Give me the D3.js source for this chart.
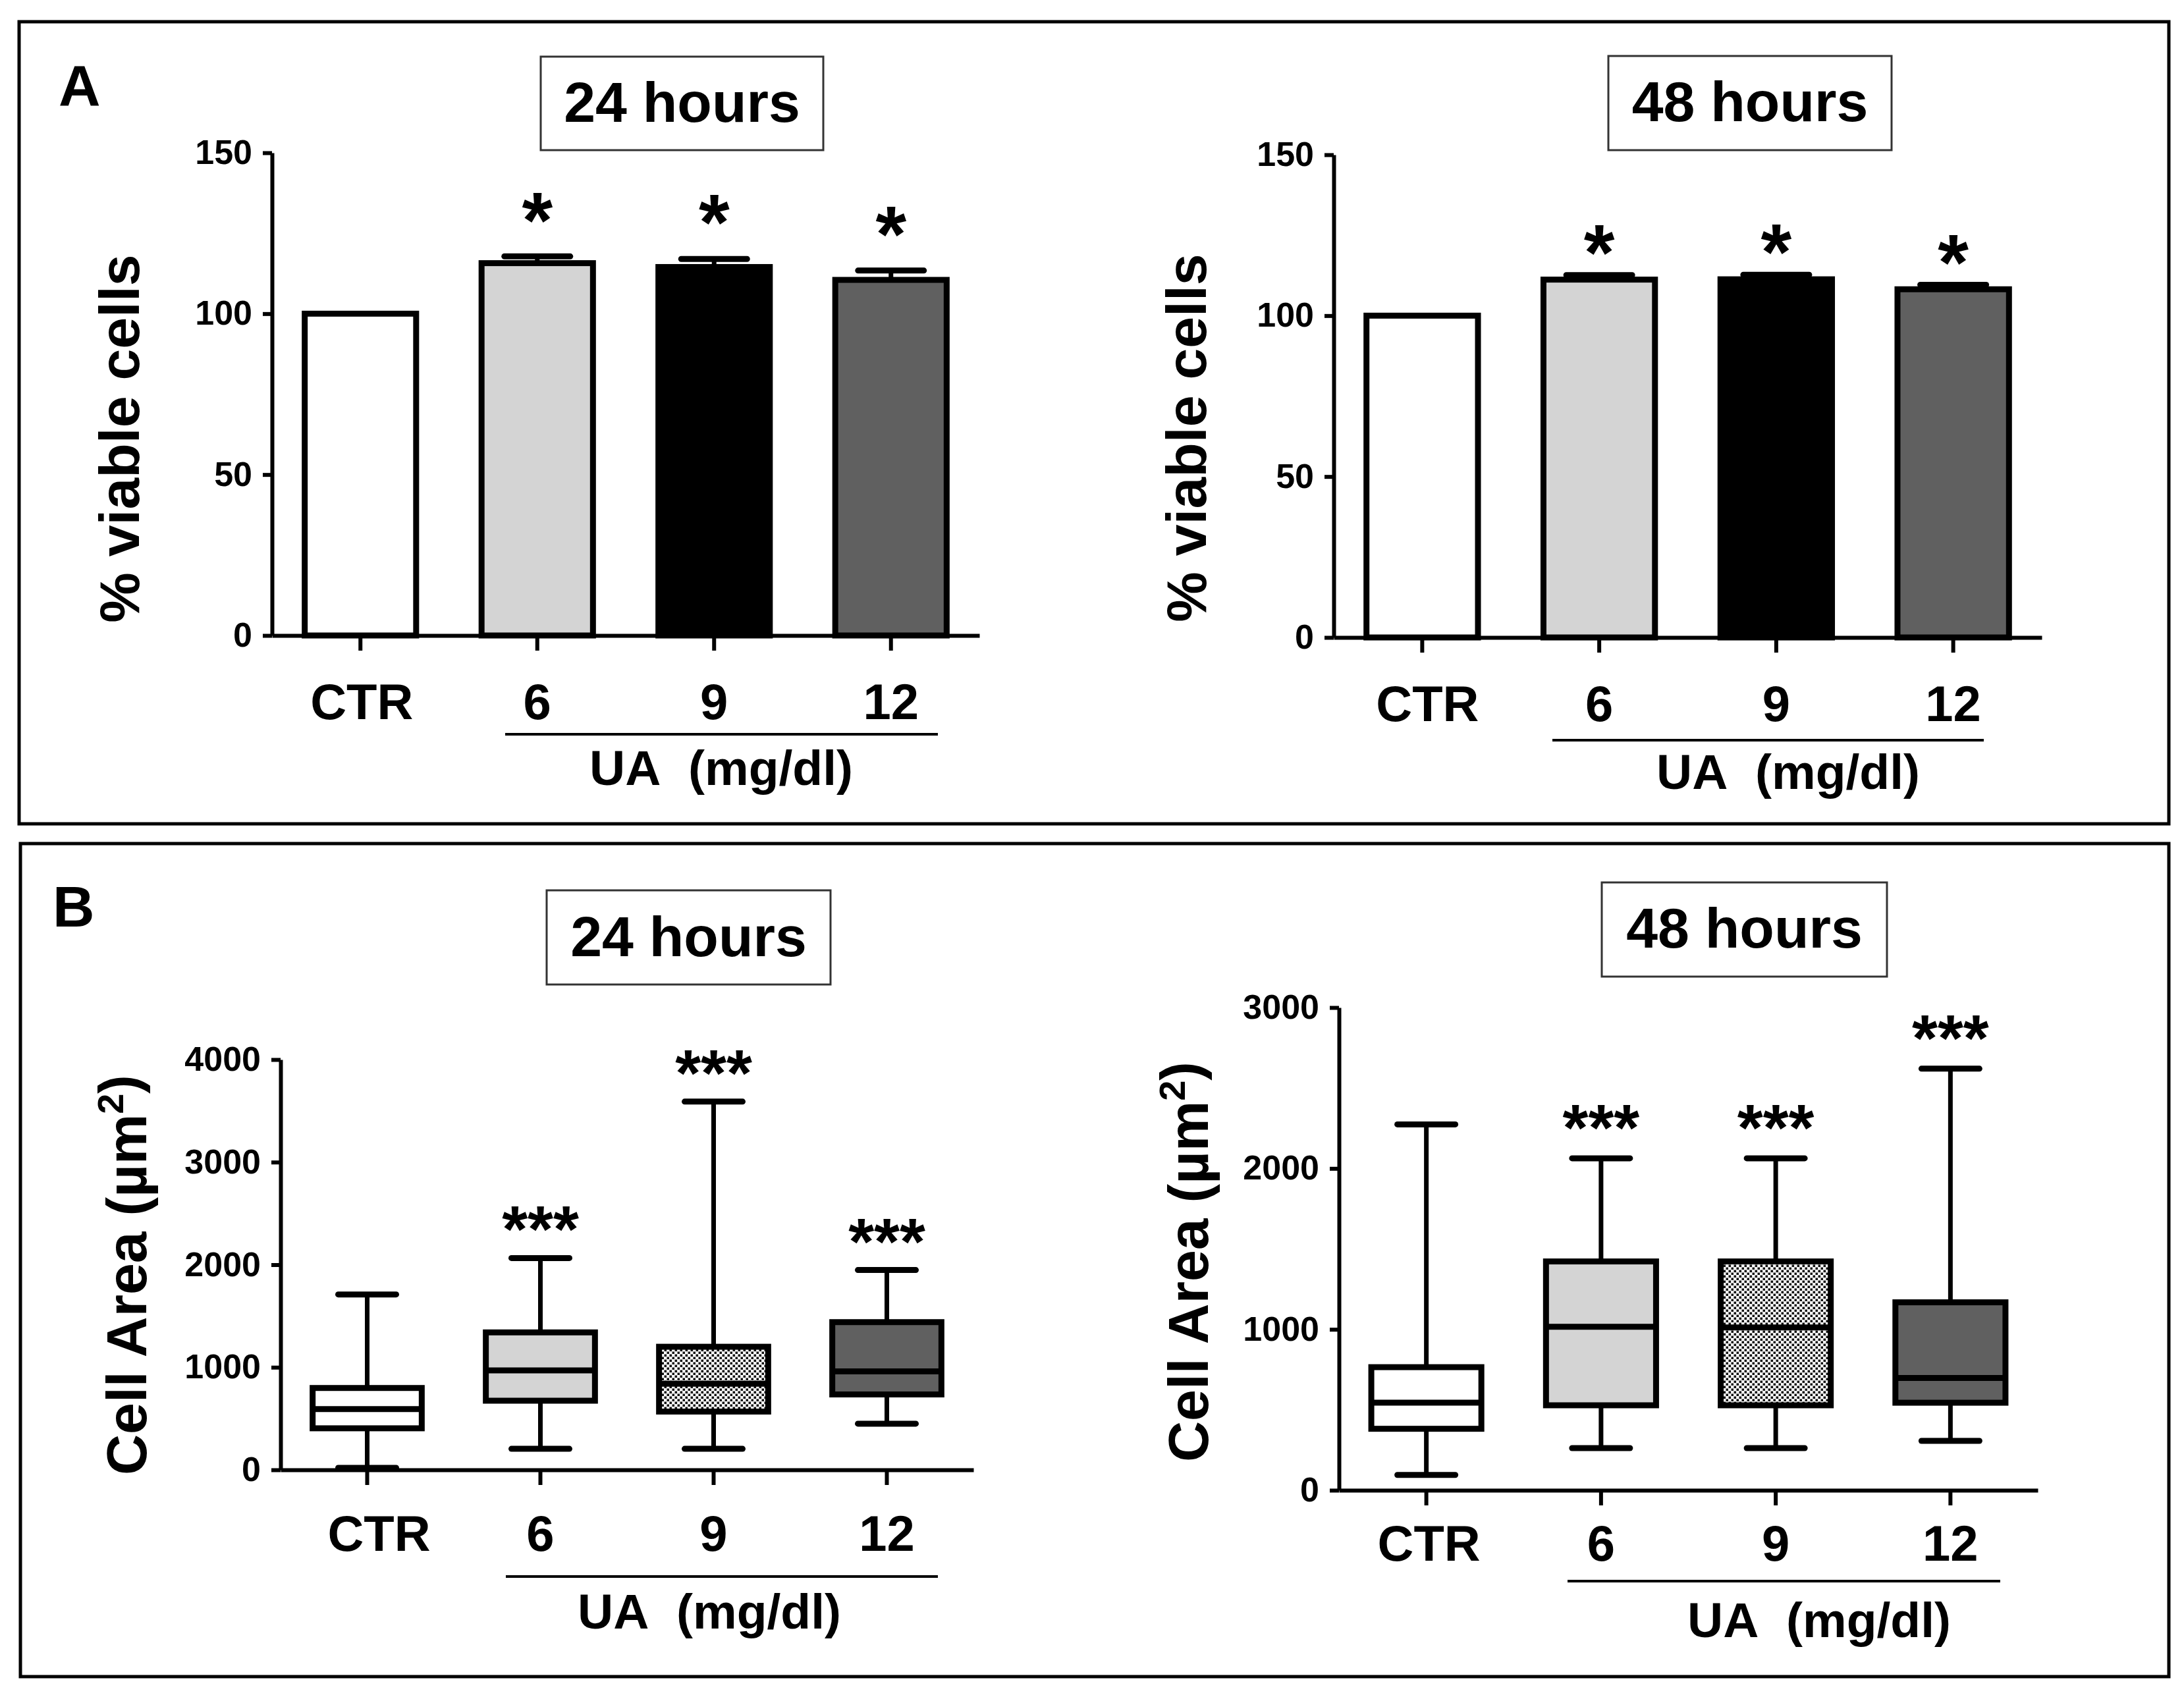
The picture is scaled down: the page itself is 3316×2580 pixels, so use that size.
<!DOCTYPE html>
<html lang="en">
<head>
    <meta charset="utf-8">
    <title>Viability and cell area</title>
    <script src="https://cdn.jsdelivr.net/npm/d3@7/dist/d3.min.js"></script>
    <style>
        body { margin: 0; background: #fff; }
        text { font-family: "Liberation Sans", Arial, sans-serif; font-weight: bold; fill: #000; }
    </style>
</head>
<body>
<div id="graph"></div>
<script>
    // groups on the x axis
    var categories = ["CTR", "6", "9", "12"];

    // panel A: % viable cells (mean and upper error)
    var viabTicks = [0, 50, 100, 150];
    var viab24 = [100, 115.7, 114.5, 110.5];
    var viab24Err = [0, 2.1, 2.5, 2.9];
    var viab48 = [100, 111.2, 111.3, 108.2];
    var viab48Err = [0, 1.4, 1.4, 1.4];
    var viabStars = ["", "*", "*", "*"];

    // panel B: cell area box plots (µm²)
    var area24Ticks = [0, 1000, 2000, 3000, 4000];
    var area24Min = [20, 205, 205, 450];
    var area24Q1 = [405, 674, 568, 735];
    var area24Med = [592, 970, 840, 960];
    var area24Q3 = [798, 1340, 1200, 1440];
    var area24Max = [1710, 2065, 3590, 1948];

    var area48Ticks = [0, 1000, 2000, 3000];
    var area48Min = [95, 262, 262, 307];
    var area48Q1 = [382, 528, 528, 544];
    var area48Med = [544, 1016, 1012, 698];
    var area48Q3 = [765, 1422, 1422, 1168];
    var area48Max = [2274, 2063, 2063, 2620];
    var areaStars = ["", "***", "***", "***"];

    var w = 3316;
    var h = 2580;

    var svg = d3.select("#graph")
        .append("svg")
        .attr("width", w)
        .attr("height", h);

    // checkered fill for the 9 mg/dl box
    var pat = svg.append("defs").append("pattern")
        .attr("id", "checker")
        .attr("width", 8)
        .attr("height", 8)
        .attr("patternUnits", "userSpaceOnUse");
    pat.append("rect").attr("width", 8).attr("height", 8).attr("fill", "#fff");
    pat.append("rect").attr("x", 0.5).attr("y", 0.5).attr("width", 3.6).attr("height", 3.6).attr("fill", "#111");
    pat.append("rect").attr("x", 4.5).attr("y", 4.5).attr("width", 3.6).attr("height", 3.6).attr("fill", "#111");

    var barFills = ["#ffffff", "#d4d4d4", "#000000", "#606060"];
    var boxFills = ["#ffffff", "#d4d4d4", "url(#checker)", "#606060"];

    // outer panel frames and letters
    svg.append("rect").attr("x", 29).attr("y", 33).attr("width", 3264).attr("height", 1218)
        .attr("fill", "none").attr("stroke", "#000").attr("stroke-width", 5);
    svg.append("rect").attr("x", 31).attr("y", 1281).attr("width", 3262).attr("height", 1265)
        .attr("fill", "none").attr("stroke", "#000").attr("stroke-width", 5);
    svg.append("text").attr("x", 89).attr("y", 160).style("font-size", "88px").text("A");
    svg.append("text").attr("x", 80).attr("y", 1407).style("font-size", "88px").text("B");

    /**
     * Draws the frame shared by every chart: title box, axes, group labels,
     * the UA bracket and the y axis title. Returns the scales.
     */
    function drawFrame(c) {
        var x = d3.scaleBand()
            .domain(categories)
            .range([c.x0, c.x1])
            .paddingInner(0.37)
            .paddingOuter(0.185);

        var y = d3.scaleLinear()
            .domain([0, c.max])
            .range([c.y0, c.y1]);

        // title box
        svg.append("rect")
            .attr("x", c.box[0]).attr("y", c.box[1])
            .attr("width", c.box[2]).attr("height", c.box[3])
            .attr("fill", "#fff").attr("stroke", "#333").attr("stroke-width", 3);
        svg.append("text")
            .attr("x", c.box[0] + c.box[2] / 2)
            .attr("y", c.titleY)
            .attr("text-anchor", "middle")
            .style("font-size", "86px")
            .text(c.title);

        var yAxis = d3.axisLeft(y)
            .tickValues(c.ticks)
            .tickFormat(d3.format("d"))
            .tickSize(14)
            .tickSizeOuter(0)
            .tickPadding(16);

        var gy = svg.append("g")
            .attr("transform", "translate(" + c.x0 + ",0)")
            .call(yAxis);
        gy.selectAll("path, line").attr("stroke", "#000").attr("stroke-width", 6);
        gy.selectAll("text")
            .style("font-family", "'Liberation Sans', Arial, sans-serif")
            .style("font-weight", "bold")
            .style("font-size", "52px")
            .attr("fill", "#000");

        var xAxis = d3.axisBottom(x)
            .tickSize(23)
            .tickSizeOuter(0)
            .tickFormat("");

        var gx = svg.append("g")
            .attr("transform", "translate(0," + c.y0 + ")")
            .call(xAxis);
        gx.selectAll("path, line").attr("stroke", "#000").attr("stroke-width", 6);

        // group labels
        svg.selectAll(null)
            .data(categories)
            .enter()
            .append("text")
            .attr("x", function (d, i) { return x(d) + x.bandwidth() / 2 + (i === 0 ? c.ctrShift : 0); })
            .attr("y", c.labelY)
            .attr("text-anchor", "middle")
            .style("font-size", "76px")
            .text(function (d) { return d; });

        // UA bracket under the treated groups
        svg.append("line")
            .attr("x1", c.line[0]).attr("x2", c.line[1])
            .attr("y1", c.lineY).attr("y2", c.lineY)
            .attr("stroke", "#000").attr("stroke-width", 4);
        svg.append("text")
            .attr("x", c.uaX)
            .attr("y", c.uaY)
            .attr("text-anchor", "middle")
            .style("font-size", "75px")
            .text("UA\u00a0 (mg/dl)");

        // y axis title
        var yl = svg.append("text")
            .attr("transform", "translate(" + c.ylab[0] + "," + c.ylab[1] + ")rotate(-90)")
            .attr("text-anchor", "middle")
            .attr("dy", "0.36em")
            .style("font-size", "86px");
        if (c.unit) {
            yl.append("tspan").text("Cell Area (µm");
            yl.append("tspan").attr("dy", "-0.62em").style("font-size", "56px").text("2");
            yl.append("tspan").attr("dy", "0.26em").text(")");
        } else {
            yl.text(c.ytitle);
        }

        return {x: x, y: y};
    }

    function drawBars(c, values, errs) {
        var s = drawFrame(c);
        var x = s.x, y = s.y;
        var bw = x.bandwidth();

        // upper error bars
        var capW = 100;
        categories.forEach(function (d, i) {
            if (errs[i] <= 0) return;
            var cx = x(d) + bw / 2;
            svg.append("line")
                .attr("x1", cx).attr("x2", cx)
                .attr("y1", y(values[i])).attr("y2", y(values[i] + errs[i]))
                .attr("stroke", "#000").attr("stroke-width", 7);
            svg.append("line")
                .attr("x1", cx - capW / 2).attr("x2", cx + capW / 2)
                .attr("y1", y(values[i] + errs[i])).attr("y2", y(values[i] + errs[i]))
                .attr("stroke", "#000").attr("stroke-width", 9)
                .attr("stroke-linecap", "round");
        });

        svg.selectAll(null)
            .data(values)
            .enter()
            .append("rect")
            .attr("x", function (d, i) { return x(categories[i]); })
            .attr("y", function (d) { return y(d); })
            .attr("width", bw)
            .attr("height", function (d) { return y(0) - y(d); })
            .attr("fill", function (d, i) { return barFills[i]; })
            .attr("stroke", "#000")
            .attr("stroke-width", 9);

        svg.selectAll(null)
            .data(viabStars)
            .enter()
            .append("text")
            .attr("x", function (d, i) { return x(categories[i]) + bw / 2; })
            .attr("y", function (d, i) { return y(values[i] + errs[i]) - c.starGap + 0.56 * 120; })
            .attr("text-anchor", "middle")
            .style("font-size", "120px")
            .text(function (d) { return d; });
    }

    function drawBoxes(c, mins, q1, med, q3, maxs) {
        var s = drawFrame(c);
        var x = s.x, y = s.y;
        var bw = x.bandwidth();
        var capW = 88;

        categories.forEach(function (d, i) {
            var cx = x(d) + bw / 2;
            // whiskers
            [[q3[i], maxs[i]], [q1[i], mins[i]]].forEach(function (p) {
                svg.append("line")
                    .attr("x1", cx).attr("x2", cx)
                    .attr("y1", y(p[0])).attr("y2", y(p[1]))
                    .attr("stroke", "#000").attr("stroke-width", 7);
                svg.append("line")
                    .attr("x1", cx - capW / 2).attr("x2", cx + capW / 2)
                    .attr("y1", y(p[1])).attr("y2", y(p[1]))
                    .attr("stroke", "#000").attr("stroke-width", 9)
                    .attr("stroke-linecap", "round");
            });
            svg.append("rect")
                .attr("x", x(d))
                .attr("y", y(q3[i]))
                .attr("width", bw)
                .attr("height", y(q1[i]) - y(q3[i]))
                .attr("fill", boxFills[i])
                .attr("stroke", "#000")
                .attr("stroke-width", 9);
            svg.append("line")
                .attr("x1", x(d)).attr("x2", x(d) + bw)
                .attr("y1", y(med[i])).attr("y2", y(med[i]))
                .attr("stroke", "#000").attr("stroke-width", 9);
        });

        svg.selectAll(null)
            .data(areaStars)
            .enter()
            .append("text")
            .attr("x", function (d, i) { return x(categories[i]) + bw / 2; })
            .attr("y", function (d, i) { return y(maxs[i]) - c.starGap + 0.56 * 100; })
            .attr("text-anchor", "middle")
            .style("font-size", "100px")
            .text(function (d) { return d; });
    }

    drawBars({
        x0: 413, x1: 1487, y0: 965, y1: 232, max: 150, ticks: viabTicks,
        box: [821, 86, 429, 142], title: "24 hours", titleY: 185,
        labelY: 1092, ctrShift: 2, line: [767, 1424], lineY: 1115, uaX: 1095, uaY: 1192,
        ylab: [180, 666], ytitle: "% viable cells", starGap: 81
    }, viab24, viab24Err);

    drawBars({
        x0: 2025, x1: 3100, y0: 968, y1: 235, max: 150, ticks: viabTicks,
        box: [2442, 85, 430, 143], title: "48 hours", titleY: 184,
        labelY: 1095, ctrShift: 8, line: [2357, 3012], lineY: 1124, uaX: 2715, uaY: 1198,
        ylab: [1800, 665], ytitle: "% viable cells", starGap: 60
    }, viab48, viab48Err);

    drawBoxes({
        x0: 426, x1: 1478, y0: 2232, y1: 1609, max: 4000, ticks: area24Ticks,
        box: [830, 1352, 431, 143], title: "24 hours", titleY: 1452,
        labelY: 2355, ctrShift: 18, line: [768, 1424], lineY: 2394, uaX: 1077, uaY: 2473,
        ylab: [191, 1936], unit: true, starGap: 65
    }, area24Min, area24Q1, area24Med, area24Q3, area24Max);

    drawBoxes({
        x0: 2033, x1: 3094, y0: 2263, y1: 1530, max: 3000, ticks: area48Ticks,
        box: [2432, 1340, 433, 143], title: "48 hours", titleY: 1439,
        labelY: 2370, ctrShift: 4, line: [2380, 3037], lineY: 2401, uaX: 2762, uaY: 2486,
        ylab: [1803, 1916], unit: true, starGap: 68
    }, area48Min, area48Q1, area48Med, area48Q3, area48Max);
</script>
</body>
</html>
